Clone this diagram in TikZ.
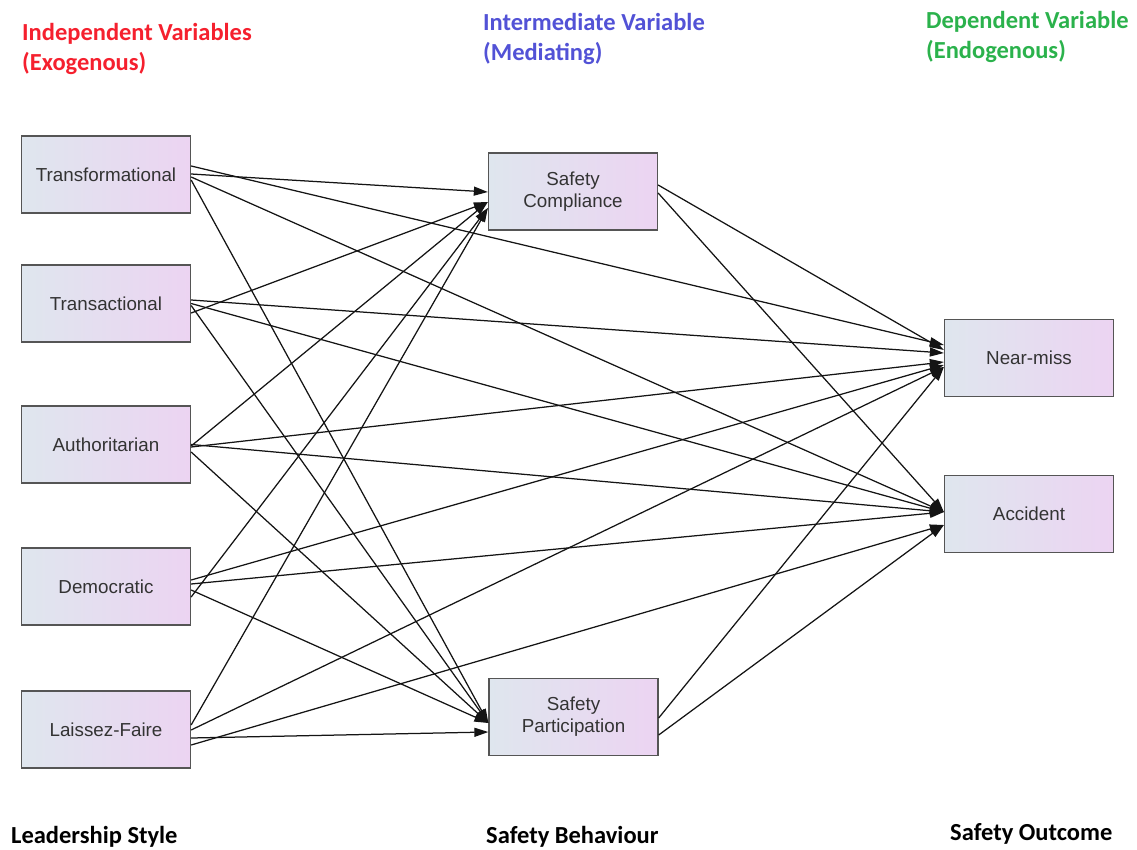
\documentclass[tikz,border=0pt]{standalone}
\usepackage{fontspec}
\setmainfont{Liberation Sans}
\newfontfamily\hdrfont{Carlito}
\usetikzlibrary{arrows.meta,calc}
\definecolor{boxL}{HTML}{DFE6EE}
\definecolor{boxR}{HTML}{ECD4F2}
\definecolor{boxB}{HTML}{555555}
\definecolor{hred}{HTML}{F5202E}
\definecolor{hblue}{HTML}{5252D6}
\definecolor{hgreen}{HTML}{2BB24C}
\tikzset{
  varbox/.style={draw=boxB, line width=1.3pt, left color=boxL, right color=boxR,
    minimum width=169pt, minimum height=77pt, align=center, inner sep=0pt,
    text=black!80, font=\fontsize{18.8}{22}\selectfont},
  link/.style={line width=1.25pt, draw=black!92, -{Triangle[length=14pt,width=9pt]}},
  hdr/.style={anchor=base west, font=\hdrfont\bfseries\fontsize{24.5}{30}\selectfont, align=left, inner sep=0pt}
}
\begin{document}
\begin{tikzpicture}[x=1pt,y=-1pt]
\useasboundingbox (0,0) rectangle (1137,850);
% headers (anchor at the baseline of the last line)
\node[hdr, text=hred] (h1) at (22,71) {Independent Variables\\(Exogenous)};
\node[hdr, text=hblue] (h2) at (483,61) {Intermediate Variable\\(Mediating)};
\node[hdr, text=hgreen] (h3) at (926,59) {Dependent Variable\\(Endogenous)};
\node[hdr, text=black] (f1) at (11,843) {Leadership Style};
\node[hdr, text=black] (f2) at (486,843) {Safety Behaviour};
\node[hdr, text=black] (f3) at (950,840) {Safety Outcome};
% boxes
\node[varbox] (tf) at (106,174.5) {Transformational};
\node[varbox] (ta) at (106,303.5) {Transactional};
\node[varbox] (au) at (106,444.5) {Authoritarian};
\node[varbox] (de) at (106,586.5) {Democratic};
\node[varbox] (lf) at (106,729.5) {Laissez-Faire};
\node[varbox] (sc) at (573,191.5) {Safety\\Compliance};
\node[varbox] (sp) at (573.5,717) {Safety\\Participation};
\node[varbox] (nm) at (1029,358) {Near-miss};
\node[varbox] (ac) at (1029,514) {Accident};
% Transformational
\draw[link] ($(tf.east)+(0,-0.5)$) -- ($(sc.west)+(0,0.5)$);
\draw[link] ($(tf.east)+(0,-8.5)$) -- ($(nm.west)+(0,-13)$);
\draw[link] ($(tf.east)+(0,2.5)$) -- ($(ac.west)+(0,-2)$);
\draw[link] ($(tf.east)+(0,5.5)$) -- ($(sp.west)+(0,6)$);
% Transactional
\draw[link] ($(ta.east)+(0,9.5)$) -- ($(sc.west)+(0,10.5)$);
\draw[link] ($(ta.east)+(0,-3.5)$) -- ($(nm.west)+(0,-5)$);
\draw[link] ($(ta.east)+(0,0)$) -- ($(ac.west)+(0,-2)$);
\draw[link] ($(ta.east)+(0,2)$) -- ($(sp.west)+(0,6)$);
% Authoritarian
\draw[link] ($(au.east)+(0,1.5)$) -- ($(sc.west)+(0,10.5)$);
\draw[link] ($(au.east)+(0,2.5)$) -- ($(nm.west)+(0,4)$);
\draw[link] ($(au.east)+(0,0)$) -- ($(ac.west)+(0,-2)$);
\draw[link] ($(au.east)+(0,7.5)$) -- ($(sp.west)+(0,6)$);
% Democratic
\draw[link] ($(de.east)+(0,10.5)$) -- ($(sc.west)+(0,16.5)$);
\draw[link] ($(de.east)+(0,-6.5)$) -- ($(nm.west)+(0,7)$);
\draw[link] ($(de.east)+(0,-2.5)$) -- ($(ac.west)+(0,-2)$);
\draw[link] ($(de.east)+(0,3.5)$) -- ($(sp.west)+(0,6)$);
% Laissez-Faire
\draw[link] ($(lf.east)+(0,-4.5)$) -- ($(sc.west)+(0,16.5)$);
\draw[link] ($(lf.east)+(0,0.5)$) -- ($(nm.west)+(0,9)$);
\draw[link] ($(lf.east)+(0,15.5)$) -- ($(ac.west)+(0,11)$);
\draw[link] ($(lf.east)+(0,8.5)$) -- ($(sp.west)+(0,15)$);
% mediators
\draw[link] ($(sc.east)+(0,-6.5)$) -- ($(nm.west)+(0,-8)$);
\draw[link] ($(sc.east)+(0,1.5)$) -- ($(ac.west)+(0,-2)$);
\draw[link] ($(sp.east)+(0,1)$) -- ($(nm.west)+(0,9)$);
\draw[link] ($(sp.east)+(0,18)$) -- ($(ac.west)+(0,11)$);
\end{tikzpicture}
\end{document}
